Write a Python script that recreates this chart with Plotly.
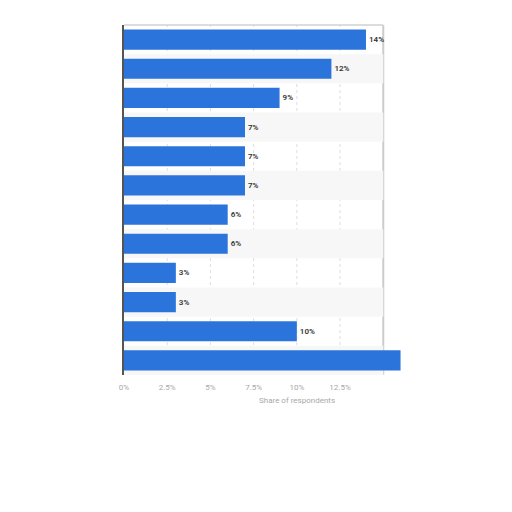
import plotly.graph_objects as go

categories = ["Item 1", "Item 2", "Item 3", "Item 4", "Item 5", "Item 6",
              "Item 7", "Item 8", "Item 9", "Item 10", "Item 11", "Item 12"]
values = [14, 12, 9, 7, 7, 7, 6, 6, 3, 3, 10, 16]
labels = ["14%", "12%", "9%", "7%", "7%", "7%", "6%", "6%", "3%", "3%", "10%", ""]
tick_vals = [0, 2.5, 5, 7.5, 10, 12.5]
tick_text = ["0%", "2.5%", "5%", "7.5%", "10%", "12.5%"]
grid_vals = [2.5, 5, 7.5, 10, 12.5]
panel_end = 15

W, H = 512, 512
OFF = 8  # page body margin
L, R = 123.5 - OFF, 403.8 - OFF
T, B = 24.6 - OFF, 375 - OFF

fig = go.Figure()
fig.add_trace(go.Bar(
    y=categories, x=values, orientation="h",
    marker=dict(color="#2a74db", line=dict(width=0)),
    width=0.69,
    text=labels, textposition="outside",
    textfont=dict(family="Roboto, sans-serif", size=8, color="#333333", weight=600),
    cliponaxis=False,
))

shapes = []
for i, c in enumerate(categories):
    if i % 2 == 1:
        shapes.append(dict(type="rect", xref="x", yref="y", layer="below",
                           x0=0, x1=panel_end, y0=i - 0.5, y1=i + 0.5,
                           fillcolor="#f7f7f7", line=dict(width=0)))
for g in grid_vals:
    shapes.append(dict(type="line", xref="x", yref="paper", layer="below",
                       x0=g, x1=g, y0=0, y1=1,
                       line=dict(color="#dddddd", width=1, dash="dot")))
shapes.append(dict(type="line", xref="x", yref="paper", layer="below",
                   x0=panel_end, x1=panel_end, y0=0, y1=1,
                   line=dict(color="#cccccc", width=2)))
shapes.append(dict(type="line", xref="x", yref="paper", layer="below",
                   x0=0, x1=panel_end, y0=1, y1=1,
                   line=dict(color="#d0d0d0", width=1.5)))

fig.update_layout(
    width=W, height=H,
    margin=dict(l=L, r=W - R, t=T, b=H - B, pad=0),
    paper_bgcolor="white", plot_bgcolor="white",
    showlegend=False,
    bargap=0.31,
    shapes=shapes,
    xaxis=dict(range=[0, 16.2], tickvals=tick_vals, ticktext=tick_text,
               showgrid=False, zeroline=False, showline=False,
               tickfont=dict(family="Roboto, sans-serif", size=8, color="#a8a8a8"),
               ticks="", ticklabelstandoff=6),
    yaxis=dict(autorange="reversed", showticklabels=False, showgrid=False,
               zeroline=False, showline=True, linecolor="#555555", linewidth=1.5,
               ticks=""),
    annotations=[dict(text="Share of respondents", xref="paper", yref="paper",
                      x=(297 - OFF - L) / (R - L), y=-(401 - 375) / (375 - 24.6),
                      xanchor="center", yanchor="middle", showarrow=False,
                      font=dict(family="Roboto, sans-serif", size=8, color="#a8a8a8"))],
)

fig.write_html("out.html")
